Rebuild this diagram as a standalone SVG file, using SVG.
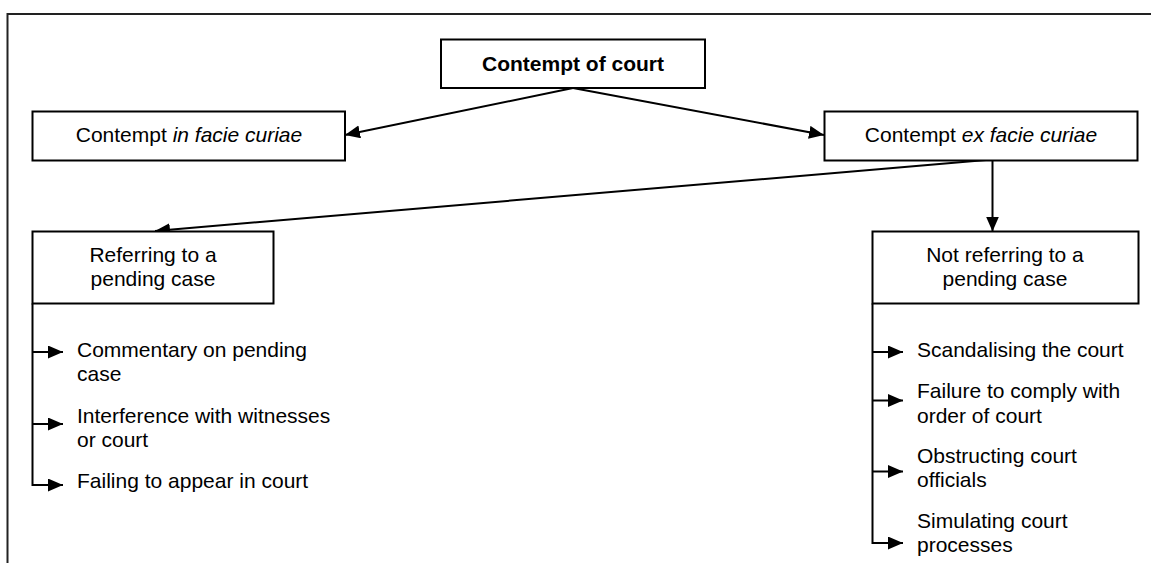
<svg xmlns="http://www.w3.org/2000/svg" width="1151" height="563" viewBox="0 0 1151 563">
<style>
.box{fill:#fff;stroke:#000;stroke-width:2}
.t{font-family:"Liberation Sans",Arial,sans-serif;font-size:21px;fill:#000}
.c{text-anchor:middle}
.b{font-weight:bold}
.i{font-style:italic}
.ln{fill:none;stroke:#000;stroke-width:2}
</style>
<defs>
<marker id="ah" markerUnits="userSpaceOnUse" markerWidth="16" markerHeight="14" refX="15" refY="6.5" orient="auto">
<path d="M0,0 L15,6.5 L0,13 z" fill="#000"/>
</marker>
</defs>
<g id="frame">
<path d="M7.5,563 V14 H1151" fill="none" stroke="#222" stroke-width="2"/>
</g>
<g id="connectors">
<path class="ln" d="M573,88 L345,135" marker-end="url(#ah)"/>
<path class="ln" d="M573,88 L824,135" marker-end="url(#ah)"/>
<path class="ln" d="M986,160 L155,231" marker-end="url(#ah)"/>
<path class="ln" d="M992.5,160 V231.5" marker-end="url(#ah)"/>
<path class="ln" d="M32.5,303.5 V485 H63" marker-end="url(#ah)"/>
<path class="ln" d="M32.5,352 H63" marker-end="url(#ah)"/>
<path class="ln" d="M32.5,424 H63" marker-end="url(#ah)"/>
<path class="ln" d="M872.5,303.5 V543 H903" marker-end="url(#ah)"/>
<path class="ln" d="M872.5,352 H903" marker-end="url(#ah)"/>
<path class="ln" d="M872.5,400.5 H903" marker-end="url(#ah)"/>
<path class="ln" d="M872.5,471.5 H903" marker-end="url(#ah)"/>
</g>
<g id="root">
<rect class="box" x="441" y="39.5" width="264" height="48.5"/>
<text class="t c b" x="573" y="71">Contempt of court</text>
</g>
<g id="in-facie">
<rect class="box" x="32.5" y="111.5" width="312.5" height="49"/>
<text class="t c" x="189" y="142">Contempt <tspan class="i">in facie curiae</tspan></text>
</g>
<g id="ex-facie">
<rect class="box" x="824.5" y="111.5" width="313" height="49"/>
<text class="t c" x="981" y="142">Contempt <tspan class="i">ex facie curiae</tspan></text>
</g>
<g id="referring">
<rect class="box" x="32.5" y="231.5" width="241" height="72"/>
<text class="t c" x="153" y="262">Referring to a</text>
<text class="t c" x="153" y="286">pending case</text>
</g>
<g id="not-referring">
<rect class="box" x="872.5" y="231.5" width="266" height="72"/>
<text class="t c" x="1005" y="262">Not referring to a</text>
<text class="t c" x="1005" y="286">pending case</text>
</g>
<g id="commentary">
<text class="t" x="77" y="357">Commentary on pending</text>
<text class="t" x="77" y="381">case</text>
</g>
<g id="interference">
<text class="t" x="77" y="423">Interference with witnesses</text>
<text class="t" x="77" y="447">or court</text>
</g>
<g id="failing">
<text class="t" x="77" y="488">Failing to appear in court</text>
</g>
<g id="scandalising">
<text class="t" x="917" y="357">Scandalising the court</text>
</g>
<g id="failure">
<text class="t" x="917" y="398">Failure to comply with</text>
<text class="t" x="917" y="422.5">order of court</text>
</g>
<g id="obstructing">
<text class="t" x="917" y="463">Obstructing court</text>
<text class="t" x="917" y="487">officials</text>
</g>
<g id="simulating">
<text class="t" x="917" y="528">Simulating court</text>
<text class="t" x="917" y="552">processes</text>
</g>
</svg>
